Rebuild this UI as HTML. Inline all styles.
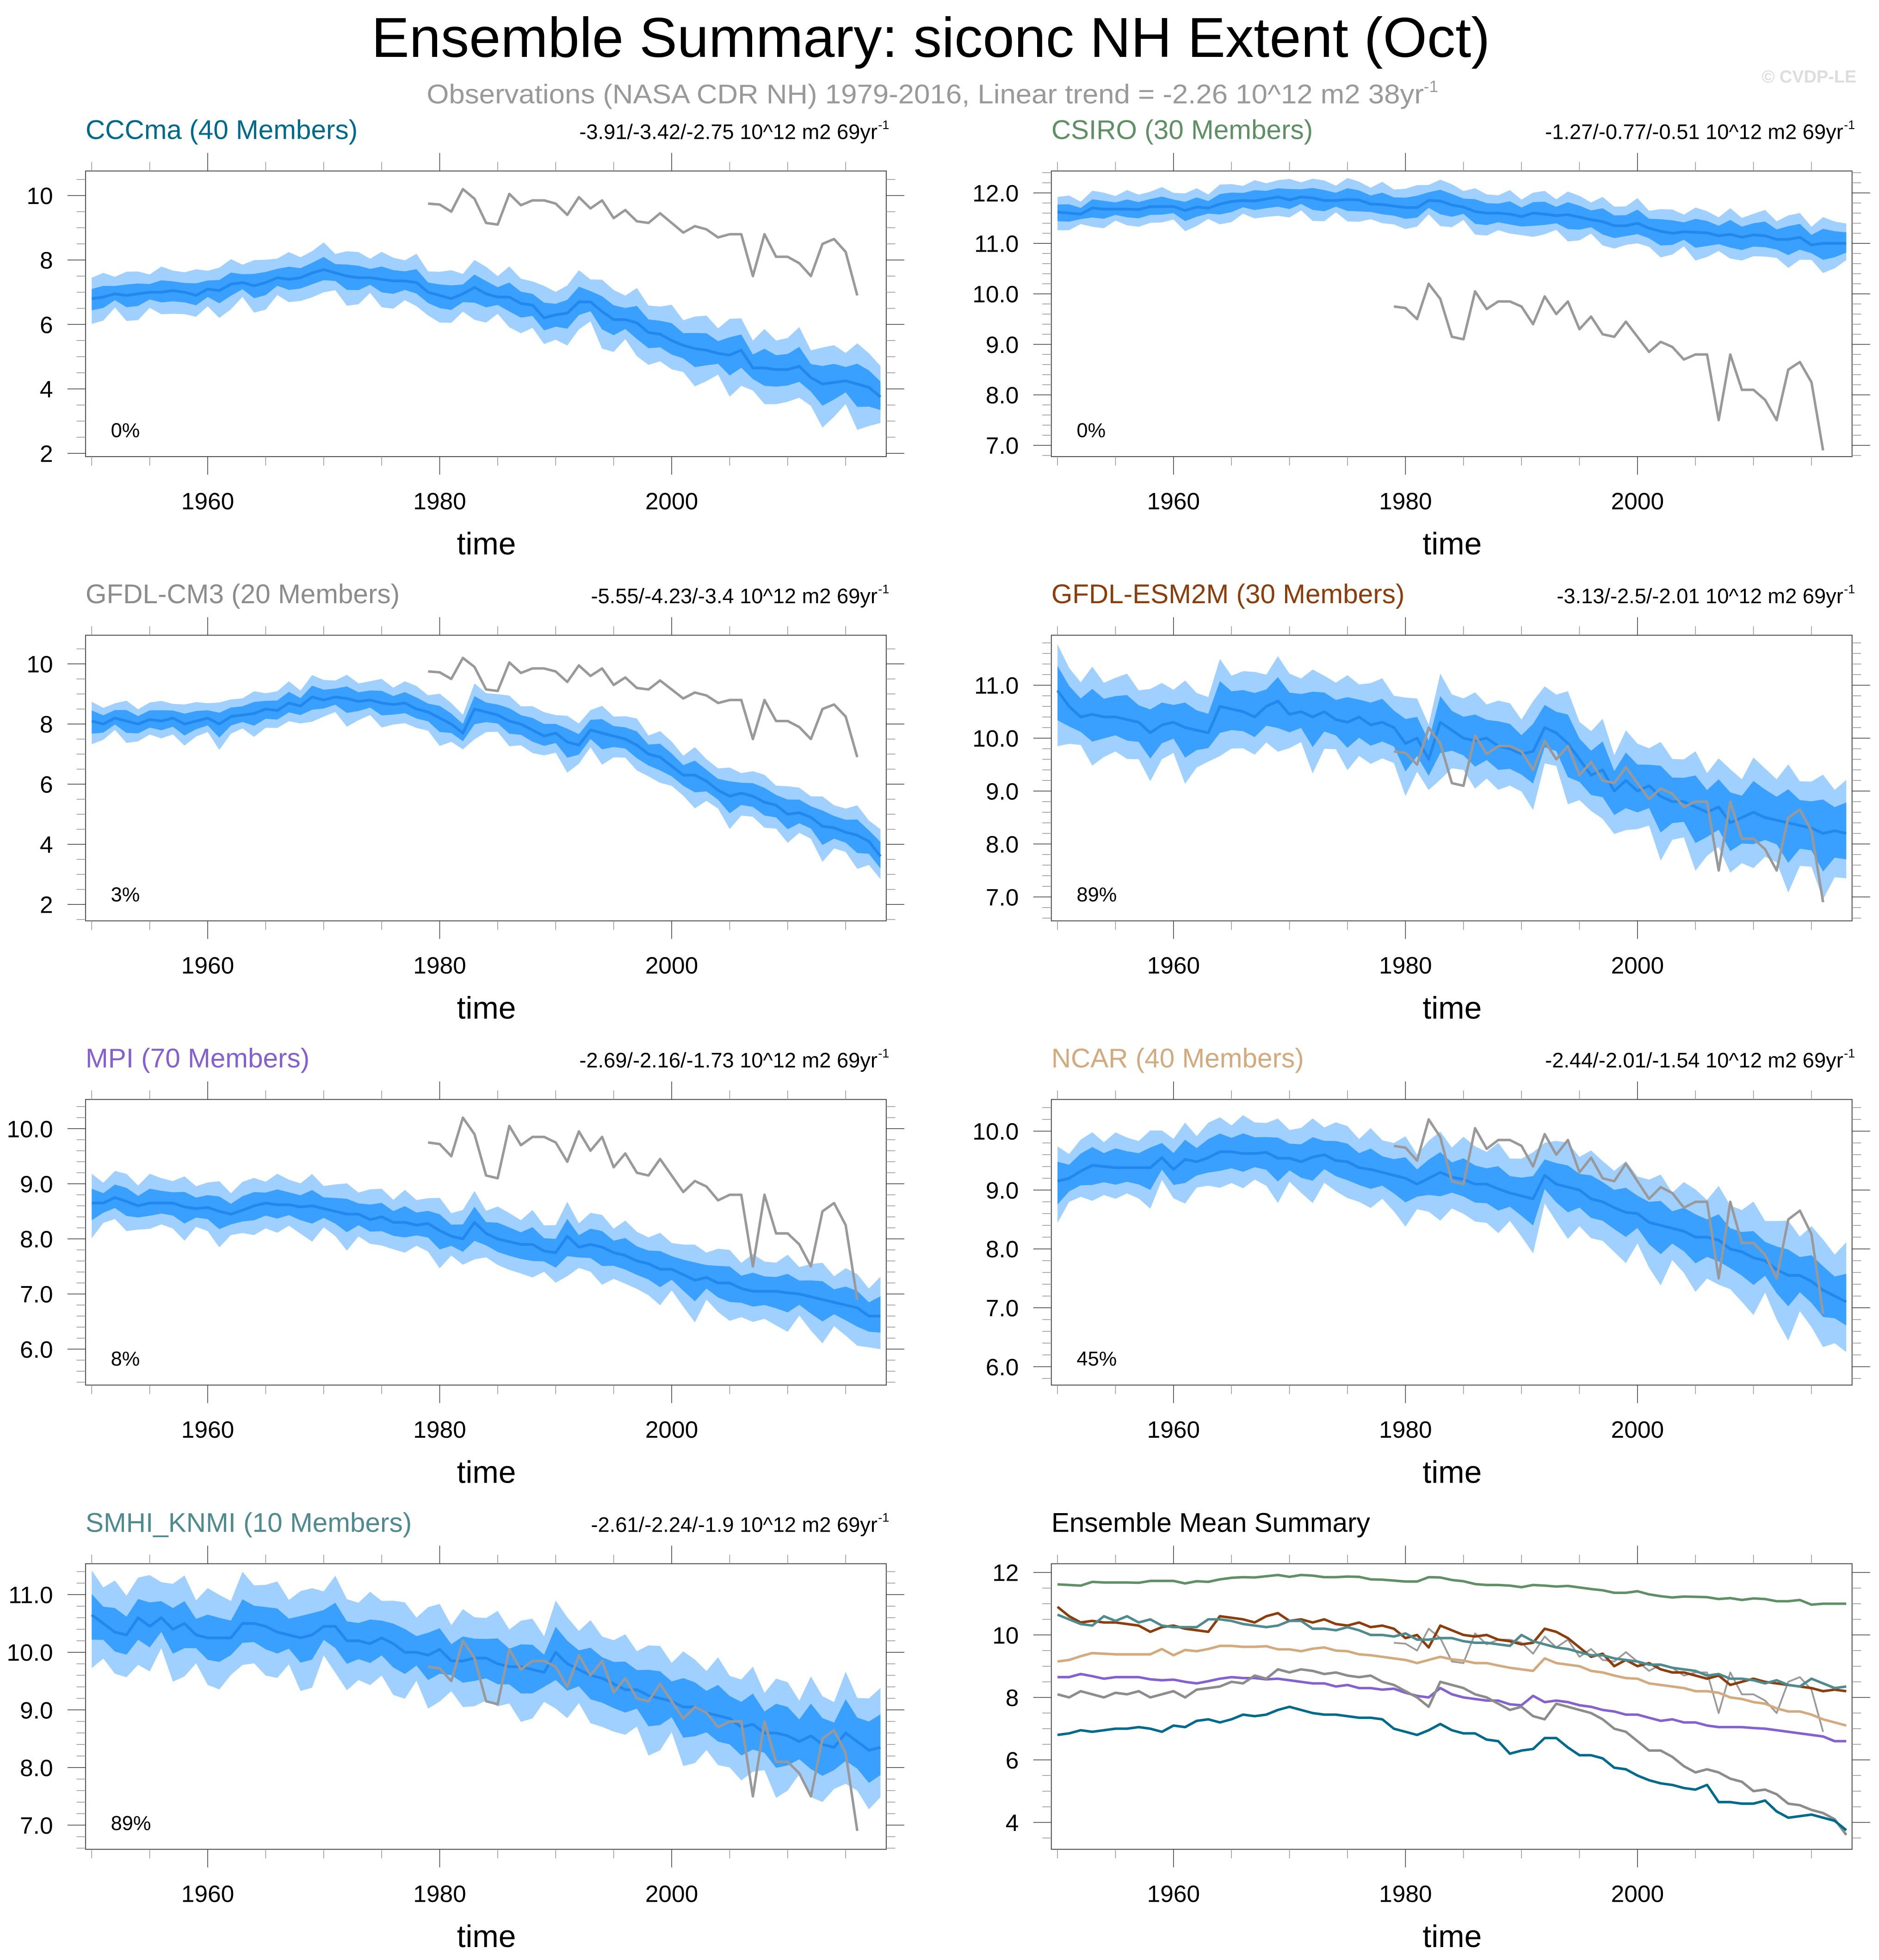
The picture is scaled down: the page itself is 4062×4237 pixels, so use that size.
<!DOCTYPE html>
<html><head><meta charset="utf-8"><style>
html,body{margin:0;padding:0;background:#fff;}
svg{display:block;font-family:"Liberation Sans",Arial,sans-serif;}
</style></head><body>
<svg id="chart" xmlns="http://www.w3.org/2000/svg" width="4062" height="4237" viewBox="0 0 1500 1564.65">
<rect x="0" y="0" width="1500" height="1564.65" fill="#fff"/>
<text x="296.5" y="45.5" font-size="45" textLength="893" lengthAdjust="spacingAndGlyphs">Ensemble Summary: siconc NH Extent (Oct)</text>
<text x="340.6" y="82.5" font-size="21.5" fill="#999" ><tspan textLength="796" lengthAdjust="spacingAndGlyphs">Observations (NASA CDR NH) 1979-2016, Linear trend = -2.26 10^12 m2 38yr</tspan><tspan font-size="13" dy="-9">-1</tspan></text>
<text x="1482" y="66" font-size="14" font-weight="bold" fill="#ddd" text-anchor="end">© CVDP-LE</text>
<g id="panels"></g>
</svg>
<script>
const years = [];
for (let y = 1950; y <= 2018; y++) years.push(y);
const obsYears = [];
for (let y = 1979; y <= 2016; y++) obsYears.push(y);
const obs = [9.75,9.72,9.5,10.2,9.9,9.15,9.1,10.05,9.7,9.85,9.85,9.75,9.4,9.95,9.6,9.85,9.3,9.55,9.2,9.15,9.45,9.15,8.85,9.05,8.95,8.7,8.8,8.8,7.5,8.8,8.1,8.1,7.9,7.5,8.5,8.65,8.25,6.9];

const meanCCCma = [6.8,6.85,6.95,6.9,6.95,7.0,7.0,7.05,7.0,6.9, 7.1,7.05,7.25,7.3,7.2,7.3,7.45,7.4,7.45,7.6, 7.7,7.6,7.5,7.45,7.45,7.4,7.35,7.35,7.3,7.0, 6.9,6.8,6.95,7.15,6.95,6.85,6.85,6.65,6.6,6.2, 6.3,6.35,6.7,6.7,6.4,6.15,6.15,6.05,5.75,5.7, 5.5,5.35,5.25,5.2,5.1,5.05,5.2,4.65,4.65,4.6, 4.6,4.7,4.35,4.15,4.2,4.25,4.15,4.05,3.75];
const meanCSIRO = [11.62,11.6,11.58,11.7,11.68,11.68,11.68,11.67,11.73,11.73, 11.73,11.65,11.72,11.7,11.78,11.83,11.85,11.84,11.88,11.92, 11.86,11.92,11.9,11.85,11.85,11.87,11.86,11.78,11.77,11.74, 11.71,11.71,11.85,11.84,11.76,11.72,11.63,11.6,11.6,11.58, 11.53,11.6,11.58,11.55,11.57,11.52,11.47,11.43,11.35,11.35, 11.4,11.3,11.24,11.2,11.23,11.22,11.21,11.15,11.18,11.12, 11.17,11.15,11.08,11.08,11.12,10.97,11.0,11.0,11.0];
const meanCM3 = [8.1,8.0,8.2,8.1,8.0,8.15,8.1,8.2,8.0,8.1, 8.2,8.0,8.25,8.3,8.35,8.5,8.45,8.7,8.6,8.9, 8.8,8.9,8.85,8.75,8.8,8.7,8.65,8.7,8.5,8.4, 8.2,8.0,7.7,8.5,8.4,8.3,8.1,8.0,7.8,7.6, 7.7,7.4,7.3,7.8,7.7,7.6,7.5,7.3,7.0,6.9, 6.6,6.3,6.3,6.1,5.8,5.6,5.7,5.6,5.4,5.3, 5.0,5.05,4.9,4.6,4.55,4.4,4.3,4.1,3.6];
const meanESM2M = [10.9,10.6,10.4,10.45,10.4,10.4,10.35,10.3,10.1,10.25, 10.3,10.2,10.15,10.1,10.6,10.55,10.5,10.4,10.6,10.7, 10.45,10.5,10.4,10.5,10.35,10.3,10.4,10.25,10.3,10.2, 9.9,10.0,9.6,10.3,10.15,10.0,9.95,10.0,9.85,9.8, 9.7,9.75,10.2,10.1,9.9,9.6,9.3,9.4,9.0,9.2, 9.0,9.1,8.9,8.8,8.8,8.7,8.6,8.7,8.4,8.5, 8.6,8.5,8.45,8.4,8.35,8.3,8.2,8.25,8.2];
const meanMPI = [8.65,8.65,8.75,8.68,8.6,8.65,8.65,8.65,8.58,8.55, 8.57,8.5,8.45,8.52,8.6,8.65,8.62,8.62,8.58,8.6, 8.55,8.5,8.45,8.45,8.35,8.4,8.3,8.3,8.25,8.28, 8.15,8.05,8.0,8.3,8.1,8.0,7.95,7.9,7.9,7.78, 7.75,8.05,7.85,7.9,7.85,7.75,7.7,7.6,7.55,7.45, 7.45,7.35,7.25,7.3,7.2,7.2,7.1,7.05,7.05,7.05, 7.02,7.0,6.95,6.9,6.85,6.8,6.75,6.6,6.6];
const meanNCAR = [9.15,9.2,9.32,9.42,9.4,9.38,9.38,9.38,9.38,9.55, 9.35,9.52,9.48,9.55,9.65,9.65,9.62,9.62,9.64,9.54, 9.54,9.48,9.56,9.6,9.5,9.48,9.38,9.35,9.3,9.25, 9.2,9.1,9.2,9.3,9.22,9.18,9.1,9.1,9.02,8.95, 8.9,8.85,9.25,9.1,9.05,9.0,8.85,8.8,8.7,8.62, 8.6,8.45,8.4,8.35,8.3,8.2,8.2,8.15,8.0,7.95, 7.85,7.8,7.65,7.55,7.55,7.45,7.3,7.2,7.1];
const meanSMHI = [10.65,10.5,10.35,10.3,10.6,10.45,10.6,10.4,10.5,10.3, 10.25,10.25,10.25,10.5,10.5,10.45,10.35,10.3,10.25,10.3, 10.45,10.45,10.2,10.2,10.15,10.25,10.15,10.0,10.0,9.95, 10.05,9.85,9.85,9.9,9.9,9.8,9.75,9.75,9.7,9.65, 10.0,9.8,9.7,9.6,9.55,9.45,9.35,9.35,9.25,9.2, 9.15,9.05,9.05,8.95,8.9,8.85,8.7,8.75,8.6,8.6, 8.55,8.45,8.55,8.4,8.35,8.6,8.45,8.3,8.35];

const innerCCCma = [0.35,0.3,0.55], outerCCCma = [0.75,0.65,1.1];
const innerCSIRO = [0.2,0.15,0.25], outerCSIRO = [0.38,0.3,0.45];
const innerCM3 = [0.35,0.3,0.45], outerCM3 = [0.7,0.55,0.85];
const innerESM2M = [0.4,0.4,0.55], outerESM2M = [0.75,0.75,0.95];
const innerMPI = [0.25,0.22,0.3], outerMPI = [0.5,0.45,0.6];
const innerNCAR = [0.3,0.28,0.4], outerNCAR = [0.6,0.5,0.85];
const innerSMHI = [0.35,0.35,0.5], outerSMHI = [0.75,0.75,0.9];

const NS = "http://www.w3.org/2000/svg";
const root = document.getElementById("panels");
function mk(tag, attrs, parent) {
  const e = document.createElementNS(NS, tag);
  for (const k in attrs) e.setAttribute(k, attrs[k]);
  (parent || root).appendChild(e);
  return e;
}
const BOXW = 639.2, BOXH = 228, ROWH = 370.6;
const PXY = 9.26;

function spreadAt(arr, i) {
  return i < 30 ? arr[1] + (arr[0] - arr[1]) * (i / 30) : arr[0] + (arr[2] - arr[0]) * ((i - 30) / 38);
}

function panel(cfg) {
  const g = mk("g", {});
  
  
  const x0 = cfg.col === 0 ? 68.3 : 839.3;
  const off = cfg.row * ROWH;
  const top = 136.5 + off, bot = top + BOXH;
  const [v1, p1, v2, p2] = cfg.ref;
  const sy = v => off + p1 + (v - v1) * (p2 - p1) / (v2 - v1);
  const sx = yr => x0 + 4.9 + (yr - 1950) * PXY;
  const vmax = v1 + (top - off - p1) * (v2 - v1) / (p2 - p1);
  const vmin = v1 + (bot - off - p1) * (v2 - v1) / (p2 - p1);
  const clip = mk("clipPath", {id: "clip" + cfg.name}, g);
  mk("rect", {x: x0, y: top, width: BOXW, height: BOXH}, clip);
  const pg = mk("g", {"clip-path": "url(#clip" + cfg.name + ")"}, g);

  if (cfg.mean) {
    const bands = [[cfg.outer, "#a0d0ff", "outer-spread-band"], [cfg.inner, "#3aa0ff", "inner-spread-band"]];
    bands.forEach(b => {
      const up = [], dn = [];
      cfg.mean.forEach((m, i) => {
        const w = spreadAt(b[0], i) * (1 + 0.2 * Math.sin(i * 2.3 + cfg.row));
        up.push(sx(years[i]).toFixed(2) + "," + sy(m + w).toFixed(2));
        dn.push(sx(years[i]).toFixed(2) + "," + sy(m - w * (1 + 0.2 * Math.cos(i * 1.7))).toFixed(2));
      });
      const poly = mk("polygon", {points: up.concat(dn.reverse()).join(" "), fill: b[1]}, pg);
      
      
    });
    const ml = mk("polyline", {points: cfg.mean.map((m, i) => sx(years[i]).toFixed(2) + "," + sy(m).toFixed(2)).join(" "), fill: "none", stroke: "#2288ee", "stroke-width": 2.2, "stroke-linejoin": "round"}, pg);
    
    
    const ol = mk("polyline", {points: obs.map((v, i) => sx(obsYears[i]).toFixed(2) + "," + sy(v).toFixed(2)).join(" "), fill: "none", stroke: "#999", "stroke-width": 2, "stroke-linejoin": "round"}, pg);
    
    
  }
  if (cfg.lines) {
    cfg.lines.forEach(L => {
      const pl = mk("polyline", {points: L[0].map((v, i) => sx(L[2][i]).toFixed(2) + "," + sy(v).toFixed(2)).join(" "), fill: "none", stroke: L[1], "stroke-width": L[3], "stroke-linejoin": "round"}, pg);
      
      
    });
  }
  const box = mk("rect", {x: x0, y: top, width: BOXW, height: BOXH, fill: "none", stroke: "#555", "stroke-width": 0.8}, g);
  
  

  const eps = 1e-6;
  for (let v = Math.ceil(vmin / cfg.minor - eps) * cfg.minor; v <= vmax + eps; v += cfg.minor) {
    const isMaj = Math.abs(v / cfg.major - Math.round(v / cfg.major)) < 1e-4;
    const L = isMaj ? 14.4 : 7.2, y = sy(v);
    mk("line", {x1: x0 - L, x2: x0, y1: y, y2: y, stroke: isMaj ? "#444" : "#999", "stroke-width": 0.6}, g);
    mk("line", {x1: x0 + BOXW, x2: x0 + BOXW + L, y1: y, y2: y, stroke: isMaj ? "#444" : "#999", "stroke-width": 0.6}, g);
    if (isMaj) {
      const t = mk("text", {x: x0 - 26, y: y + 6.8, "font-size": 19, "text-anchor": "end"}, g);
      t.textContent = cfg.dec ? v.toFixed(1) : Math.round(v).toString();
      
      
    }
  }
  for (let yr = 1950; yr <= 2015; yr += 5) {
    const isMaj = (yr - 1960) % 20 === 0;
    const L = isMaj ? 14.4 : 7.2, x = sx(yr);
    mk("line", {x1: x, x2: x, y1: bot, y2: bot + L, stroke: isMaj ? "#444" : "#999", "stroke-width": 0.6}, g);
    mk("line", {x1: x, x2: x, y1: top - L, y2: top, stroke: isMaj ? "#444" : "#999", "stroke-width": 0.6}, g);
    if (isMaj) {
      const t = mk("text", {x: x, y: off + 406.5, "font-size": 19, "text-anchor": "middle"}, g);
      t.textContent = yr;
      
      
    }
  }
  const xt = mk("text", {x: x0 + 320, y: off + 442.5, "font-size": 25, "text-anchor": "middle"}, g);
  xt.textContent = "time";
  
  

  const tt = mk("text", {x: x0, y: off + 111, "font-size": 21.6, fill: cfg.color}, g);
  tt.textContent = cfg.title;
  
  
  if (cfg.trend) {
    const tr = mk("text", {x: x0 + BOXW - 7, y: off + 111, "font-size": 16.7, "text-anchor": "end"}, g);
    tr.textContent = cfg.trend;
    
    
    const sup = mk("text", {x: x0 + BOXW - 6.5, y: off + 103, "font-size": 10}, g);
    sup.textContent = "-1";
    
    
  }
  if (cfg.pct) {
    const pt = mk("text", {x: x0 + 20.2, y: off + 349, "font-size": 16}, g);
    pt.textContent = cfg.pct;
    
    
  }
}

panel({name: "cccma", col: 0, row: 0, ref: [10, 156.1, 2, 361.9], major: 2, minor: 0.5, dec: false, mean: meanCCCma, inner: innerCCCma, outer: outerCCCma, title: "CCCma (40 Members)", color: "#006a8c", trend: "-3.91/-3.42/-2.75 10^12 m2 69yr", pct: "0%"});
panel({name: "csiro", col: 1, row: 0, ref: [12, 154, 7, 355.5], major: 1, minor: 0.2, dec: true, mean: meanCSIRO, inner: innerCSIRO, outer: outerCSIRO, title: "CSIRO (30 Members)", color: "#5f8f64", trend: "-1.27/-0.77/-0.51 10^12 m2 69yr", pct: "0%"});
panel({name: "gfdl-cm3", col: 0, row: 1, ref: [10, 159.4, 2, 351.4], major: 2, minor: 0.5, dec: false, mean: meanCM3, inner: innerCM3, outer: outerCM3, title: "GFDL-CM3 (20 Members)", color: "#8c8c8c", trend: "-5.55/-4.23/-3.4 10^12 m2 69yr", pct: "3%"});
panel({name: "gfdl-esm2m", col: 1, row: 1, ref: [11, 176.4, 7, 345.4], major: 1, minor: 0.2, dec: true, mean: meanESM2M, inner: innerESM2M, outer: outerESM2M, title: "GFDL-ESM2M (30 Members)", color: "#8b3d0b", trend: "-3.13/-2.5/-2.01 10^12 m2 69yr", pct: "89%"});
panel({name: "mpi", col: 0, row: 2, ref: [10, 159.8, 6, 335.8], major: 1, minor: 0.2, dec: true, mean: meanMPI, inner: innerMPI, outer: outerMPI, title: "MPI (70 Members)", color: "#8560d0", trend: "-2.69/-2.16/-1.73 10^12 m2 69yr", pct: "8%"});
panel({name: "ncar", col: 1, row: 2, ref: [10, 161.8, 6, 349.8], major: 1, minor: 0.2, dec: true, mean: meanNCAR, inner: innerNCAR, outer: outerNCAR, title: "NCAR (40 Members)", color: "#d2aa7e", trend: "-2.44/-2.01/-1.54 10^12 m2 69yr", pct: "45%"});
panel({name: "smhi-knmi", col: 0, row: 3, ref: [11, 161.2, 7, 345.2], major: 1, minor: 0.2, dec: true, mean: meanSMHI, inner: innerSMHI, outer: outerSMHI, title: "SMHI_KNMI (10 Members)", color: "#4f8a8f", trend: "-2.61/-2.24/-1.9 10^12 m2 69yr", pct: "89%"});
panel({name: "ensemble-mean-summary", col: 1, row: 3, ref: [12, 143.5, 4, 343], major: 2, minor: 0.5, dec: false, title: "Ensemble Mean Summary", color: "#000",
  lines: [
    [obs, "#9a9a9a", obsYears, 1.4, "summary-observations-line"],
    [meanCSIRO, "#5f8f64", years, 2, "summary-csiro-line"],
    [meanNCAR, "#d2aa7e", years, 2, "summary-ncar-line"],
    [meanMPI, "#8560d0", years, 2, "summary-mpi-line"],
    [meanCM3, "#8c8c8c", years, 2, "summary-gfdl-cm3-line"],
    [meanCCCma, "#006a8c", years, 2, "summary-cccma-line"],
    [meanESM2M, "#8b3d0b", years, 2, "summary-gfdl-esm2m-line"],
    [meanSMHI, "#4f8a8f", years, 2, "summary-smhi-knmi-line"]
  ]});
</script>
</body></html>
